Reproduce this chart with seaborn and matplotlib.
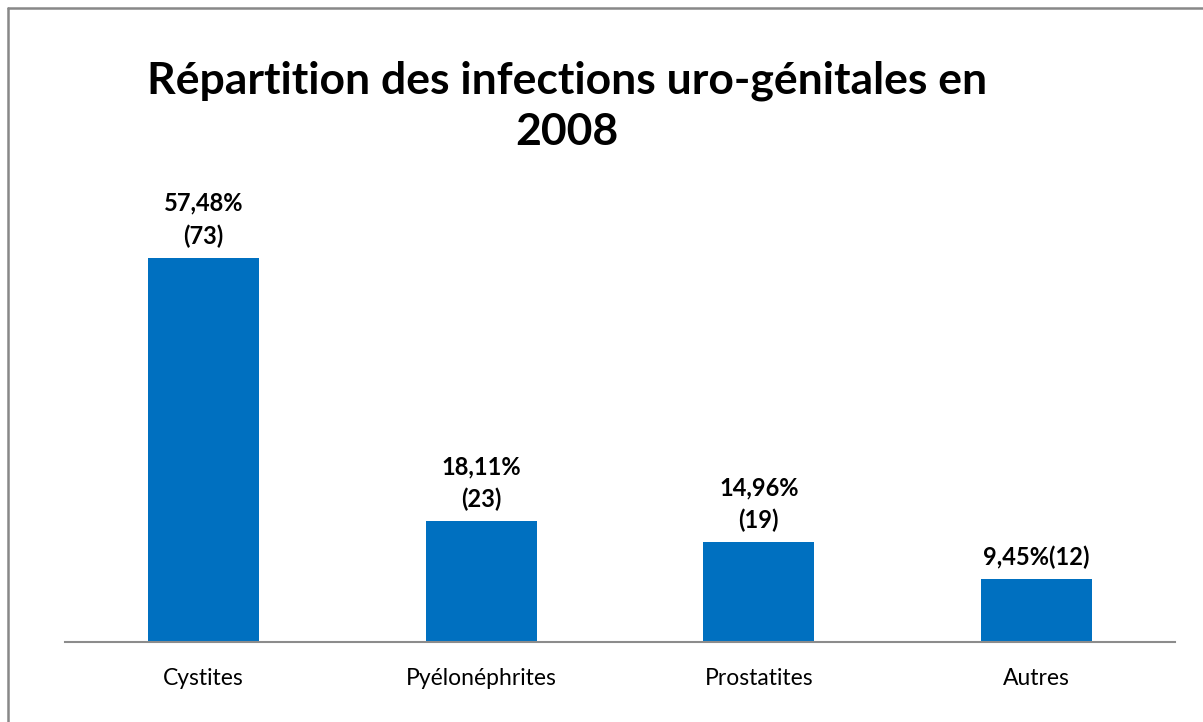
import matplotlib
matplotlib.use("Agg")
import matplotlib.pyplot as plt
from matplotlib.lines import Line2D
import seaborn as sns
import pandas as pd

categories = ["Cystites", "Pyélonéphrites", "Prostatites", "Autres"]
counts = [73, 23, 19, 12]
labels = ["57,48%\n(73)", "18,11%\n(23)", "14,96%\n(19)", "9,45%(12)"]
title = "Répartition des infections uro-génitales en\n2008"

sns.set_theme(style="white")
plt.rcParams["font.family"] = ["Lato", "DejaVu Sans"]
plt.rcParams["text.color"] = "black"

df = pd.DataFrame({"cat": categories, "n": counts})

W, H = 1203, 722
fig = plt.figure(figsize=(W / 100, H / 100), dpi=100)
ax = fig.add_axes([65 / W, 1 - 642 / H, (1175 - 65) / W, (642 - 221) / H])

sns.barplot(data=df, x="cat", y="n", color="#0070C0", width=0.4, ax=ax,
            saturation=1, edgecolor="none")
ax.set_ylim(0, 80)
ax.set_xlim(-0.5, 3.5)
ax.set_xlabel("")
ax.set_ylabel("")
ax.set_yticks([])
for s in ["top", "right", "left"]:
    ax.spines[s].set_visible(False)
ax.spines["bottom"].set_color("#8c8c8c")
ax.spines["bottom"].set_linewidth(1.5)
ax.tick_params(axis="x", length=0, pad=19, labelsize=16.5, colors="black")

for i, (v, lab) in enumerate(zip(counts, labels)):
    ax.annotate(lab, (i, v), xytext=(0, 7), textcoords="offset points",
                ha="center", va="bottom", fontsize=17, fontweight="bold",
                linespacing=1.5, color="black", clip_on=False)

fig.text(567 / W, 1 - 106 / H, title, ha="center", va="center",
         fontsize=32, fontweight="bold", linespacing=1.32, color="black")

# chart border
fig.add_artist(Line2D([7.5 / W, 7.5 / W], [0, 1 - 7.5 / H], color="#888888", lw=1.8,
                      transform=fig.transFigure))
fig.add_artist(Line2D([7.5 / W, 1], [1 - 7.5 / H, 1 - 7.5 / H], color="#888888", lw=1.8,
                      transform=fig.transFigure))

fig.savefig("out.png", dpi=100)
